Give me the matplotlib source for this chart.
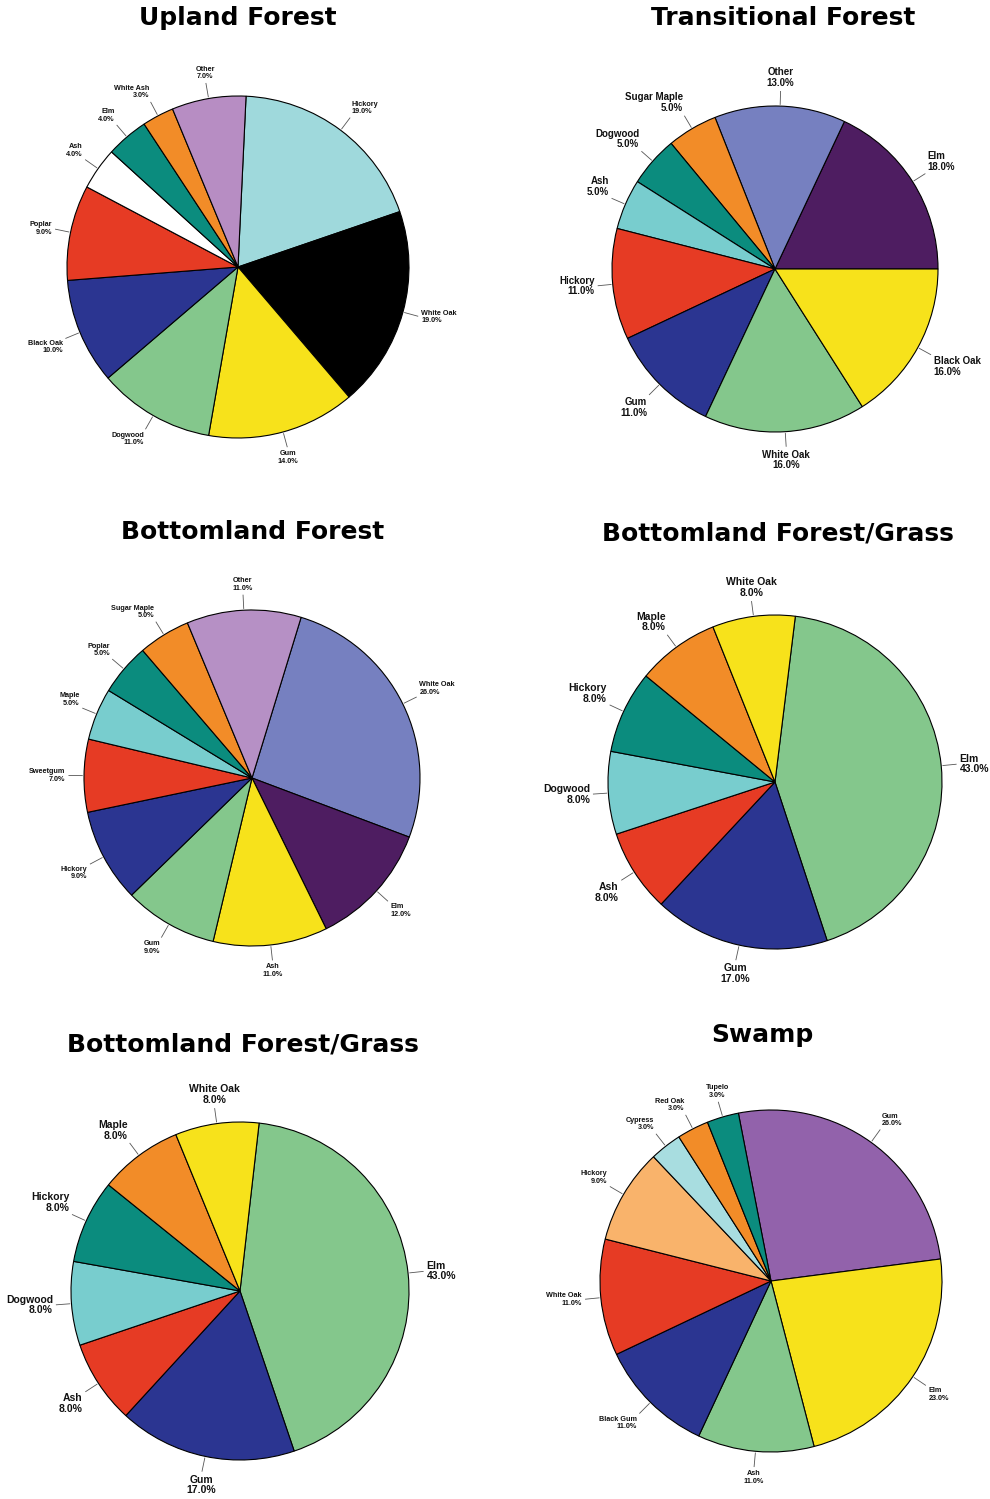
import numpy as np
import matplotlib
matplotlib.use('Agg')
import matplotlib.pyplot as plt

W, H = 990, 1499

# colours used across the charts
YELLOW = '#f7e21b'
GREEN = '#84c78c'
BLUE = '#2b3591'
RED = '#e63b24'
TEAL = '#0b8c7e'
LTCYAN = '#78cdce'
ORANGE = '#f28c28'
LILAC = '#b78dc3'
SLATE = '#7680c0'
PLUM = '#4e1d61'

upland_names = ['Hickory', 'White Oak', 'Gum', 'Dogwood', 'Black Oak', 'Poplar',
                'Ash', 'Elm', 'White Ash', 'Other']
upland_vals = [19, 19, 14, 11, 10, 9, 4, 4, 3, 7]
upland_cols = ['#9fd9dc', 'black', YELLOW, GREEN, BLUE, RED, 'white', TEAL, ORANGE, LILAC]

trans_names = ['Elm', 'Other', 'Sugar Maple', 'Dogwood', 'Ash', 'Hickory', 'Gum',
               'White Oak', 'Black Oak']
trans_vals = [18, 13, 5, 5, 5, 11, 11, 16, 16]
trans_cols = [PLUM, SLATE, ORANGE, TEAL, LTCYAN, RED, BLUE, GREEN, YELLOW]

bottom_names = ['White Oak', 'Elm', 'Ash', 'Gum', 'Hickory', 'Sweetgum', 'Maple',
                'Poplar', 'Sugar Maple', 'Other']
bottom_vals = [26, 12, 11, 9, 9, 7, 5, 5, 5, 11]
bottom_cols = [SLATE, PLUM, YELLOW, GREEN, BLUE, RED, LTCYAN, TEAL, ORANGE, '#b690c5']

grass_names = ['Elm', 'Gum', 'Ash', 'Dogwood', 'Hickory', 'Maple', 'White Oak']
grass_vals = [43, 17, 8, 8, 8, 8, 8]
grass_cols = [GREEN, BLUE, RED, LTCYAN, TEAL, ORANGE, YELLOW]

swamp_names = ['Gum', 'Elm', 'Ash', 'Black Gum', 'White Oak', 'Hickory', 'Cypress',
               'Red Oak', 'Tupelo']
swamp_vals = [26, 23, 11, 11, 11, 9, 3, 3, 3]
swamp_cols = ['#9262ab', YELLOW, GREEN, BLUE, RED, '#f9b36b', '#a8dde0', ORANGE, TEAL]

LABEL_FONT = ['Liberation Sans Narrow', 'Liberation Sans', 'DejaVu Sans']

fig = plt.figure(figsize=(W / 100, H / 100), dpi=100)


def draw_pie(cx, cy, r, title, tx, ty, names, vals, cols, start, fs, ccw=False, tfs=18):
    # square axes where data radius 1 equals r pixels
    side = 3 * r
    ax = fig.add_axes([(cx - 1.5 * r) / W, 1 - (cy + 1.5 * r) / H, side / W, side / H])
    wedges, _ = ax.pie(vals, colors=cols, startangle=start, counterclock=ccw,
                       radius=1.0, wedgeprops=dict(edgecolor='black', linewidth=0.8))
    ax.set_xlim(-1.5, 1.5)
    ax.set_ylim(-1.5, 1.5)
    ax.set_aspect('equal')
    ax.axis('off')
    for w, name, v in zip(wedges, names, vals):
        a = np.deg2rad((w.theta1 + w.theta2) / 2)
        c, s = np.cos(a), np.sin(a)
        ax.plot([1.01 * c, 1.09 * c], [1.01 * s, 1.09 * s], color='#555555', lw=0.6)
        ha = 'left' if c > 0.3 else ('right' if c < -0.3 else 'center')
        va = 'bottom' if s > 0.3 else ('top' if s < -0.3 else 'center')
        ax.text(1.11 * c, 1.11 * s, f'{name}\n{v:.1f}%', ha=ha, va=va, fontsize=fs,
                fontweight='bold', family=LABEL_FONT, linespacing=1.1, color='#111111')
    fig.text(tx / W, 1 - ty / H, title, ha='center', va='center', fontsize=tfs,
             fontweight='heavy', family='DejaVu Sans')


draw_pie(238, 267, 171, 'Upland Forest', 238, 18,
         upland_names, upland_vals, upland_cols, 87.3, 5.2)
draw_pie(775, 269, 163, 'Transitional Forest', 783, 18,
         trans_names, trans_vals, trans_cols, 0, 7, ccw=True)
draw_pie(252, 778, 168, 'Bottomland Forest', 253, 532,
         bottom_names, bottom_vals, bottom_cols, 73, 5.2)
draw_pie(775, 782, 167, 'Bottomland Forest/Grass', 778, 533,
         grass_names, grass_vals, grass_cols, 83, 7.5)
draw_pie(240, 1291, 169, 'Bottomland Forest/Grass', 243, 1044,
         grass_names, grass_vals, grass_cols, 83.5, 7.5)
draw_pie(771, 1281, 171, 'Swamp', 762, 1035,
         swamp_names, swamp_vals, swamp_cols, 101, 5.2)

fig.savefig('out.png', dpi=100, facecolor='white')
